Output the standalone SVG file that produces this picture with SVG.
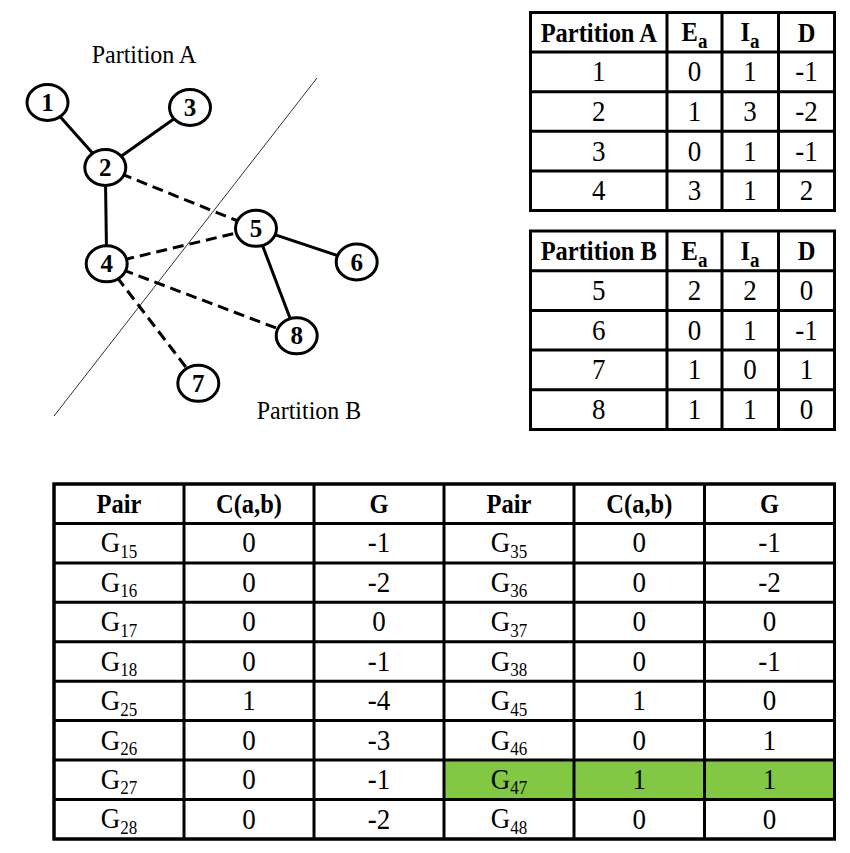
<svg xmlns="http://www.w3.org/2000/svg" width="850" height="853" viewBox="0 0 850 853">
  <style>
    text { font-family: "Liberation Serif", "Times New Roman", serif; fill: #000; text-anchor: middle; }
    .lbl { font-size: 24px; transform-box: fill-box; transform-origin: 50% 50%; transform: scaleY(1.08); }
    .nl { font-size: 25px; font-weight: bold; }
    .hd { font-size: 24.5px; font-weight: bold; transform-box: fill-box; transform-origin: 50% 50%; transform: scaleY(1.15); }
    .dt { font-size: 27px; transform-box: fill-box; transform-origin: 50% 50%; transform: scaleY(1.1); }
    .sub { font-size: 17px; }
    .hsub { font-size: 19px; }
    .node ellipse { fill: #fff; stroke: #000; stroke-width: 3; }
    .edge { stroke: #000; stroke-width: 3; fill: none; }
    .cut { stroke: #000; stroke-width: 3; stroke-dasharray: 11 6; fill: none; }
    .grid { fill: none; stroke: #000; stroke-width: 3; }
    .frame { fill: #fff; stroke: #000; stroke-width: 3; }
  </style>

  <rect width="850" height="853" fill="#fff"/>

  <!-- partition boundary and labels -->
  <line x1="317" y1="78" x2="54" y2="416" stroke="#333" stroke-width="1"/>
  <text class="lbl" x="144" y="62">Partition A</text>
  <text class="lbl" x="309" y="418">Partition B</text>

  <!-- connectors -->
  <g id="edges">
    <line class="edge" x1="47.5" y1="102.5" x2="105.3" y2="167.5"/>
    <line class="edge" x1="190" y1="107.5" x2="105.3" y2="167.5"/>
    <line class="edge" x1="105.3" y1="167.5" x2="106.7" y2="263.8"/>
    <line class="edge" x1="256" y1="228.3" x2="356.7" y2="262"/>
    <line class="edge" x1="256" y1="228.3" x2="296.7" y2="335.8"/>
    <line class="cut" x1="105.3" y1="167.5" x2="256" y2="228.3"/>
    <line class="cut" x1="106.7" y1="263.8" x2="256" y2="228.3"/>
    <line class="cut" x1="106.7" y1="263.8" x2="296.7" y2="335.8"/>
    <line class="cut" x1="106.7" y1="263.8" x2="198.3" y2="383.3"/>
  </g>

  <!-- graph nodes -->
  <g id="node1" class="node"><ellipse cx="47.5" cy="102.5" rx="20.5" ry="18"/><text class="nl" x="47.5" y="111">1</text></g>
  <g id="node2" class="node"><ellipse cx="105.3" cy="167.5" rx="20.5" ry="18"/><text class="nl" x="105.3" y="176">2</text></g>
  <g id="node3" class="node"><ellipse cx="190" cy="107.5" rx="20.5" ry="18"/><text class="nl" x="190" y="116">3</text></g>
  <g id="node4" class="node"><ellipse cx="106.7" cy="263.8" rx="20.5" ry="18"/><text class="nl" x="106.7" y="272.3">4</text></g>
  <g id="node5" class="node"><ellipse cx="256" cy="228.3" rx="20.5" ry="18"/><text class="nl" x="256" y="236.8">5</text></g>
  <g id="node6" class="node"><ellipse cx="356.7" cy="262" rx="20.5" ry="18"/><text class="nl" x="356.7" y="270.5">6</text></g>
  <g id="node7" class="node"><ellipse cx="198.3" cy="383.3" rx="20.5" ry="18"/><text class="nl" x="198.3" y="391.8">7</text></g>
  <g id="node8" class="node"><ellipse cx="296.7" cy="335.8" rx="20.5" ry="18"/><text class="nl" x="296.7" y="344.3">8</text></g>

  <!-- Partition A table -->
  <g id="tableA">
    <rect class="frame" x="530.5" y="12.5" width="304" height="198"/>
    <path class="grid" d="M667 12.5V210.5M722 12.5V210.5M778.5 12.5V210.5M530.5 52.1H834.5M530.5 91.7H834.5M530.5 131.3H834.5M530.5 170.9H834.5"/>
    <text class="hd" x="598.8" y="40.5">Partition A</text>
    <text class="hd" x="694.5" y="40.5">E<tspan class="hsub" dy="6">a</tspan></text>
    <text class="hd" x="750" y="40.5">I<tspan class="hsub" dy="6">a</tspan></text>
    <text class="hd" x="806.5" y="40.5">D</text>
    <text class="dt" x="598.8" y="80.5">1</text><text class="dt" x="694.5" y="80.5">0</text><text class="dt" x="750" y="80.5">1</text><text class="dt" x="806.5" y="80.5">-1</text>
    <text class="dt" x="598.8" y="120.1">2</text><text class="dt" x="694.5" y="120.1">1</text><text class="dt" x="750" y="120.1">3</text><text class="dt" x="806.5" y="120.1">-2</text>
    <text class="dt" x="598.8" y="159.7">3</text><text class="dt" x="694.5" y="159.7">0</text><text class="dt" x="750" y="159.7">1</text><text class="dt" x="806.5" y="159.7">-1</text>
    <text class="dt" x="598.8" y="199.3">4</text><text class="dt" x="694.5" y="199.3">3</text><text class="dt" x="750" y="199.3">1</text><text class="dt" x="806.5" y="199.3">2</text>
  </g>

  <!-- Partition B table -->
  <g id="tableB">
    <rect class="frame" x="530.5" y="231" width="304" height="198.5"/>
    <path class="grid" d="M667 231V429.5M722 231V429.5M778.5 231V429.5M530.5 270.7H834.5M530.5 310.4H834.5M530.5 350.1H834.5M530.5 389.8H834.5"/>
    <text class="hd" x="598.8" y="259.1">Partition B</text>
    <text class="hd" x="694.5" y="259.1">E<tspan class="hsub" dy="6">a</tspan></text>
    <text class="hd" x="750" y="259.1">I<tspan class="hsub" dy="6">a</tspan></text>
    <text class="hd" x="806.5" y="259.1">D</text>
    <text class="dt" x="598.8" y="299.2">5</text><text class="dt" x="694.5" y="299.2">2</text><text class="dt" x="750" y="299.2">2</text><text class="dt" x="806.5" y="299.2">0</text>
    <text class="dt" x="598.8" y="338.9">6</text><text class="dt" x="694.5" y="338.9">0</text><text class="dt" x="750" y="338.9">1</text><text class="dt" x="806.5" y="338.9">-1</text>
    <text class="dt" x="598.8" y="378.6">7</text><text class="dt" x="694.5" y="378.6">1</text><text class="dt" x="750" y="378.6">0</text><text class="dt" x="806.5" y="378.6">1</text>
    <text class="dt" x="598.8" y="418.3">8</text><text class="dt" x="694.5" y="418.3">1</text><text class="dt" x="750" y="418.3">1</text><text class="dt" x="806.5" y="418.3">0</text>
  </g>

  <!-- gain table -->
  <g id="gainTable">
    <rect class="frame" x="54" y="484" width="780.5" height="355"/>
    <rect x="444" y="760.1" width="390.5" height="39.4" fill="#82C842"/>
    <path class="grid" d="M184 484V839M314 484V839M444 484V839M574 484V839M704.5 484V839M54 523.4H834.5M54 562.9H834.5M54 602.3H834.5M54 641.8H834.5M54 681.2H834.5M54 720.6H834.5M54 760.1H834.5M54 799.5H834.5"/>
    <rect class="grid" x="54" y="484" width="780.5" height="355"/>

    <text class="hd" x="119" y="512">Pair</text>
    <text class="hd" x="249" y="512">C(a,b)</text>
    <text class="hd" x="379" y="512">G</text>
    <text class="hd" x="509" y="512">Pair</text>
    <text class="hd" x="639.3" y="512">C(a,b)</text>
    <text class="hd" x="769.5" y="512">G</text>

    <text class="dt" x="119" y="551.6">G<tspan class="sub" dy="5">15</tspan></text><text class="dt" x="249" y="551.6">0</text><text class="dt" x="379" y="551.6">-1</text>
    <text class="dt" x="509" y="551.6">G<tspan class="sub" dy="5">35</tspan></text><text class="dt" x="639.3" y="551.6">0</text><text class="dt" x="769.5" y="551.6">-1</text>

    <text class="dt" x="119" y="591">G<tspan class="sub" dy="5">16</tspan></text><text class="dt" x="249" y="591">0</text><text class="dt" x="379" y="591">-2</text>
    <text class="dt" x="509" y="591">G<tspan class="sub" dy="5">36</tspan></text><text class="dt" x="639.3" y="591">0</text><text class="dt" x="769.5" y="591">-2</text>

    <text class="dt" x="119" y="630.5">G<tspan class="sub" dy="5">17</tspan></text><text class="dt" x="249" y="630.5">0</text><text class="dt" x="379" y="630.5">0</text>
    <text class="dt" x="509" y="630.5">G<tspan class="sub" dy="5">37</tspan></text><text class="dt" x="639.3" y="630.5">0</text><text class="dt" x="769.5" y="630.5">0</text>

    <text class="dt" x="119" y="669.9">G<tspan class="sub" dy="5">18</tspan></text><text class="dt" x="249" y="669.9">0</text><text class="dt" x="379" y="669.9">-1</text>
    <text class="dt" x="509" y="669.9">G<tspan class="sub" dy="5">38</tspan></text><text class="dt" x="639.3" y="669.9">0</text><text class="dt" x="769.5" y="669.9">-1</text>

    <text class="dt" x="119" y="709.4">G<tspan class="sub" dy="5">25</tspan></text><text class="dt" x="249" y="709.4">1</text><text class="dt" x="379" y="709.4">-4</text>
    <text class="dt" x="509" y="709.4">G<tspan class="sub" dy="5">45</tspan></text><text class="dt" x="639.3" y="709.4">1</text><text class="dt" x="769.5" y="709.4">0</text>

    <text class="dt" x="119" y="748.8">G<tspan class="sub" dy="5">26</tspan></text><text class="dt" x="249" y="748.8">0</text><text class="dt" x="379" y="748.8">-3</text>
    <text class="dt" x="509" y="748.8">G<tspan class="sub" dy="5">46</tspan></text><text class="dt" x="639.3" y="748.8">0</text><text class="dt" x="769.5" y="748.8">1</text>

    <text class="dt" x="119" y="788.2">G<tspan class="sub" dy="5">27</tspan></text><text class="dt" x="249" y="788.2">0</text><text class="dt" x="379" y="788.2">-1</text>
    <text class="dt" x="509" y="788.2">G<tspan class="sub" dy="5">47</tspan></text><text class="dt" x="639.3" y="788.2">1</text><text class="dt" x="769.5" y="788.2">1</text>

    <text class="dt" x="119" y="827.7">G<tspan class="sub" dy="5">28</tspan></text><text class="dt" x="249" y="827.7">0</text><text class="dt" x="379" y="827.7">-2</text>
    <text class="dt" x="509" y="827.7">G<tspan class="sub" dy="5">48</tspan></text><text class="dt" x="639.3" y="827.7">0</text><text class="dt" x="769.5" y="827.7">0</text>
  </g>
</svg>
